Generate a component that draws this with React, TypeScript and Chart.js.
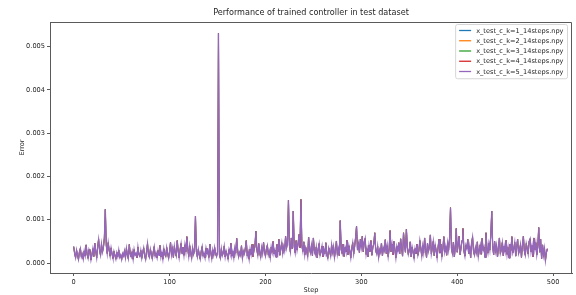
import React, { useEffect, useRef } from "react";
import { Chart, registerables } from "chart.js";

Chart.register(...registerables);

const TITLE = "Performance of trained controller in test dataset";
const X_LABEL = "Step";
const Y_LABEL = "Error";

const SERIES_NAMES = [
  "x_test_c_k=1_14steps.npy",
  "x_test_c_k=2_14steps.npy",
  "x_test_c_k=3_14steps.npy",
  "x_test_c_k=4_14steps.npy",
  "x_test_c_k=5_14steps.npy",
];
const SERIES_COLORS = ["#1f77b4", "#ff7f0e", "#2ca02c", "#d62728", "#9467bd"];

const X_TICKS = [0, 100, 200, 300, 400, 500];
const Y_TICKS = [0, 0.001, 0.002, 0.003, 0.004, 0.005];

// error per step (all five files give the same curve)
const ERROR_VALUES = [
  38e-5, 22e-5, 12e-5, 30e-5, 18e-5, 8e-5, 26e-5, 34e-5, 14e-5, 21e-5,
  9e-5, 28e-5, 17e-5, 42e-5, 20e-5, 11e-5, 31e-5, 24e-5, 7e-5, 19e-5,
  33e-5, 15e-5, 46e-5, 27e-5, 12e-5, 38e-5, 55e-5, 29e-5, 18e-5, 44e-5,
  25e-5, 36e-5, 58e-5, 124e-5, 41e-5, 22e-5, 47e-5, 30e-5, 16e-5, 35e-5,
  21e-5, 11e-5, 27e-5, 18e-5, 9e-5, 24e-5, 15e-5, 30e-5, 13e-5, 19e-5,
  8e-5, 22e-5, 16e-5, 28e-5, 12e-5, 34e-5, 19e-5, 10e-5, 43e-5, 21e-5,
  14e-5, 26e-5, 9e-5, 31e-5, 18e-5, 23e-5, 12e-5, 37e-5, 20e-5, 15e-5,
  29e-5, 11e-5, 24e-5, 35e-5, 17e-5, 8e-5, 27e-5, 45e-5, 19e-5, 13e-5,
  32e-5, 21e-5, 10e-5, 26e-5, 38e-5, 16e-5, 23e-5, 12e-5, 29e-5, 18e-5,
  41e-5, 14e-5, 25e-5, 9e-5, 33e-5, 20e-5, 15e-5, 36e-5, 22e-5, 11e-5,
  27e-5, 48e-5, 19e-5, 34e-5, 13e-5, 39e-5, 24e-5, 16e-5, 52e-5, 28e-5,
  12e-5, 31e-5, 45e-5, 22e-5, 37e-5, 18e-5, 42e-5, 26e-5, 61e-5, 33e-5,
  15e-5, 40e-5, 24e-5, 11e-5, 35e-5, 20e-5, 29e-5, 108e-5, 26e-5, 14e-5,
  32e-5, 19e-5, 9e-5, 27e-5, 38e-5, 16e-5, 23e-5, 12e-5, 34e-5, 21e-5,
  28e-5, 13e-5, 44e-5, 25e-5, 10e-5, 30e-5, 18e-5, 36e-5, 22e-5, 15e-5,
  26e-5, 531e-5, 20e-5, 11e-5, 33e-5, 17e-5, 24e-5, 39e-5, 14e-5, 28e-5,
  19e-5, 9e-5, 31e-5, 22e-5, 46e-5, 16e-5, 27e-5, 12e-5, 35e-5, 23e-5,
  57e-5, 30e-5, 14e-5, 25e-5, 18e-5, 40e-5, 11e-5, 28e-5, 21e-5, 34e-5,
  52e-5, 17e-5, 26e-5, 9e-5, 32e-5, 20e-5, 43e-5, 15e-5, 29e-5, 38e-5,
  74e-5, 31e-5, 18e-5, 45e-5, 24e-5, 13e-5, 36e-5, 22e-5, 48e-5, 27e-5,
  16e-5, 33e-5, 41e-5, 19e-5, 28e-5, 12e-5, 37e-5, 25e-5, 50e-5, 21e-5,
  30e-5, 14e-5, 43e-5, 26e-5, 55e-5, 18e-5, 34e-5, 47e-5, 22e-5, 39e-5,
  28e-5, 62e-5, 35e-5, 48e-5, 145e-5, 41e-5, 26e-5, 58e-5, 33e-5, 120e-5,
  38e-5, 24e-5, 52e-5, 30e-5, 44e-5, 66e-5, 35e-5, 147e-5, 40e-5, 27e-5,
  49e-5, 19e-5, 36e-5, 28e-5, 15e-5, 60e-5, 32e-5, 23e-5, 41e-5, 17e-5,
  58e-5, 29e-5, 20e-5, 37e-5, 12e-5, 33e-5, 45e-5, 18e-5, 26e-5, 39e-5,
  14e-5, 30e-5, 22e-5, 47e-5, 19e-5, 11e-5, 35e-5, 27e-5, 16e-5, 42e-5,
  24e-5, 38e-5, 13e-5, 29e-5, 51e-5, 20e-5, 33e-5, 17e-5, 98e-5, 31e-5,
  22e-5, 44e-5, 15e-5, 36e-5, 26e-5, 53e-5, 19e-5, 40e-5, 28e-5, 12e-5,
  34e-5, 47e-5, 21e-5, 38e-5, 59e-5, 85e-5, 30e-5, 45e-5, 24e-5, 55e-5,
  37e-5, 62e-5, 26e-5, 48e-5, 57e-5, 20e-5, 33e-5, 14e-5, 41e-5, 27e-5,
  52e-5, 18e-5, 36e-5, 45e-5, 70e-5, 29e-5, 21e-5, 39e-5, 13e-5, 31e-5,
  24e-5, 46e-5, 17e-5, 35e-5, 28e-5, 54e-5, 22e-5, 40e-5, 15e-5, 33e-5,
  75e-5, 26e-5, 43e-5, 19e-5, 50e-5, 31e-5, 12e-5, 38e-5, 27e-5, 47e-5,
  21e-5, 56e-5, 34e-5, 16e-5, 70e-5, 42e-5, 25e-5, 78e-5, 36e-5, 20e-5,
  30e-5, 49e-5, 14e-5, 37e-5, 26e-5, 11e-5, 33e-5, 22e-5, 44e-5, 18e-5,
  28e-5, 52e-5, 35e-5, 16e-5, 40e-5, 24e-5, 58e-5, 31e-5, 13e-5, 46e-5,
  27e-5, 38e-5, 65e-5, 21e-5, 34e-5, 50e-5, 17e-5, 42e-5, 29e-5, 12e-5,
  36e-5, 55e-5, 23e-5, 44e-5, 15e-5, 32e-5, 61e-5, 26e-5, 39e-5, 18e-5,
  47e-5, 30e-5, 57e-5, 128e-5, 34e-5, 22e-5, 48e-5, 14e-5, 37e-5, 80e-5,
  25e-5, 43e-5, 62e-5, 19e-5, 35e-5, 52e-5, 80e-5, 28e-5, 16e-5, 41e-5,
  33e-5, 55e-5, 21e-5, 38e-5, 12e-5, 46e-5, 60e-5, 27e-5, 18e-5, 36e-5,
  24e-5, 49e-5, 15e-5, 31e-5, 42e-5, 20e-5, 57e-5, 29e-5, 37e-5, 13e-5,
  70e-5, 34e-5, 23e-5, 45e-5, 30e-5, 64e-5, 120e-5, 38e-5, 19e-5, 50e-5,
  27e-5, 41e-5, 14e-5, 35e-5, 58e-5, 22e-5, 31e-5, 47e-5, 17e-5, 39e-5,
  26e-5, 53e-5, 20e-5, 36e-5, 12e-5, 44e-5, 29e-5, 61e-5, 24e-5, 33e-5,
  48e-5, 16e-5, 37e-5, 55e-5, 22e-5, 30e-5, 43e-5, 13e-5, 39e-5, 62e-5,
  28e-5, 18e-5, 45e-5, 34e-5, 21e-5, 50e-5, 56e-5, 26e-5, 40e-5, 14e-5,
  58e-5, 31e-5, 47e-5, 19e-5, 37e-5, 82e-5, 25e-5, 55e-5, 10e-5, 42e-5,
  18e-5, 34e-5, 6e-5, 24e-5, 33e-5,
];

const FONT = "'DejaVu Sans', sans-serif";
const TEXT_COLOR = "#262626";
const AXIS_COLOR = "#5a5a5a";

const overlayPlugin = {
  id: "overlay",
  afterDraw(chart: any) {
    const { ctx, chartArea } = chart;
    ctx.save();
    // top and right spines
    ctx.strokeStyle = AXIS_COLOR;
    ctx.lineWidth = 1;
    ctx.beginPath();
    ctx.moveTo(Math.round(chartArea.left) + 0.5, Math.round(chartArea.top) + 0.5);
    ctx.lineTo(Math.round(chartArea.right) - 0.5, Math.round(chartArea.top) + 0.5);
    ctx.lineTo(Math.round(chartArea.right) - 0.5, Math.round(chartArea.bottom));
    ctx.stroke();

    // title
    ctx.font = `8.1px ${FONT}`;
    ctx.fillStyle = TEXT_COLOR;
    ctx.textAlign = "center";
    ctx.textBaseline = "middle";
    ctx.fillText(TITLE, (chartArea.left + chartArea.right) / 2, 13);

    // legend
    ctx.font = `6.6px ${FONT}`;
    const textW = Math.max(...SERIES_NAMES.map((n) => ctx.measureText(n).width));
    const rowH = 10.25;
    const boxW = 21 + textW + 3.5;
    const boxH = rowH * SERIES_NAMES.length + 3;
    const right = chartArea.right - 5;
    const top = chartArea.top + 2;
    const left = right - boxW;
    ctx.beginPath();
    if ((ctx as any).roundRect) (ctx as any).roundRect(left + 0.5, top + 0.5, boxW, boxH, 2);
    else ctx.rect(left + 0.5, top + 0.5, boxW, boxH);
    ctx.fillStyle = "rgba(255,255,255,0.8)";
    ctx.fill();
    ctx.strokeStyle = "#d6d6d6";
    ctx.lineWidth = 1;
    ctx.stroke();
    ctx.textAlign = "left";
    SERIES_NAMES.forEach((name, i) => {
      const y = top + 6.5 + i * rowH;
      ctx.beginPath();
      ctx.moveTo(left + 4, y);
      ctx.lineTo(left + 16, y);
      ctx.strokeStyle = SERIES_COLORS[i];
      ctx.lineWidth = 1.3;
      ctx.stroke();
      ctx.fillStyle = TEXT_COLOR;
      ctx.fillText(name, left + 21, y + 0.5);
    });
    ctx.restore();
  },
};

export default function App() {
  const canvasRef = useRef<HTMLCanvasElement | null>(null);

  useEffect(() => {
    const canvas = canvasRef.current;
    if (!canvas) return;
    const points = ERROR_VALUES.map((v, i) => ({ x: i, y: v }));
    const last = SERIES_NAMES.length - 1;
    const datasets = SERIES_NAMES.map((name, i) => ({
      label: name,
      data: points,
      borderColor: SERIES_COLORS[i],
      backgroundColor: SERIES_COLORS[i],
      borderWidth: i === last ? 1.3 : 0.6,
      pointRadius: 0,
      tension: 0,
      fill: false,
      order: last - i,
    }));

    const chart = new Chart(canvas, {
      type: "line",
      data: { datasets },
      options: {
        animation: false,
        responsive: false,
        maintainAspectRatio: false,
        devicePixelRatio: 1,
        layout: { padding: { top: 22, right: 4, left: 0, bottom: 0 } },
        plugins: {
          legend: { display: false },
          title: { display: false },
          tooltip: { enabled: false },
        },
        scales: {
          x: {
            type: "linear",
            min: -24.7,
            max: 519.7,
            afterBuildTicks: (scale: any) => {
              scale.ticks = X_TICKS.map((v) => ({ value: v }));
            },
            afterFit: (scale: any) => {
              scale.height = 22;
            },
            ticks: {
              autoSkip: false,
              maxRotation: 0,
              padding: 2,
              color: TEXT_COLOR,
              font: { family: FONT, size: 6.6 },
              callback: (v: any) => String(v),
            },
            grid: {
              drawOnChartArea: false,
              drawTicks: true,
              tickLength: 3,
              color: AXIS_COLOR,
            },
            border: { display: true, color: AXIS_COLOR, width: 1 },
            title: {
              display: true,
              text: X_LABEL,
              color: TEXT_COLOR,
              font: { family: FONT, size: 6.6 },
              padding: { top: 0, bottom: 1 },
            },
          },
          y: {
            type: "linear",
            min: -0.00023,
            max: 0.00557,
            afterBuildTicks: (scale: any) => {
              scale.ticks = Y_TICKS.map((v) => ({ value: v }));
            },
            afterFit: (scale: any) => {
              scale.width = 50;
            },
            ticks: {
              autoSkip: false,
              padding: 2,
              color: TEXT_COLOR,
              font: { family: FONT, size: 6.6 },
              callback: (v: any) => Number(v).toFixed(3),
            },
            grid: {
              drawOnChartArea: false,
              drawTicks: true,
              tickLength: 3,
              color: AXIS_COLOR,
            },
            border: { display: true, color: AXIS_COLOR, width: 1 },
            title: {
              display: true,
              text: Y_LABEL,
              color: TEXT_COLOR,
              font: { family: FONT, size: 6.6 },
              padding: { top: 18, bottom: 0 },
            },
          },
        },
      },
      plugins: [overlayPlugin],
    });
    return () => chart.destroy();
  }, []);

  return (
    <div
      style={{
        position: "fixed",
        left: 0,
        top: 0,
        width: 576,
        height: 295,
        background: "#ffffff",
      }}
    >
      <canvas ref={canvasRef} width={576} height={295} style={{ width: 576, height: 295 }} />
    </div>
  );
}
